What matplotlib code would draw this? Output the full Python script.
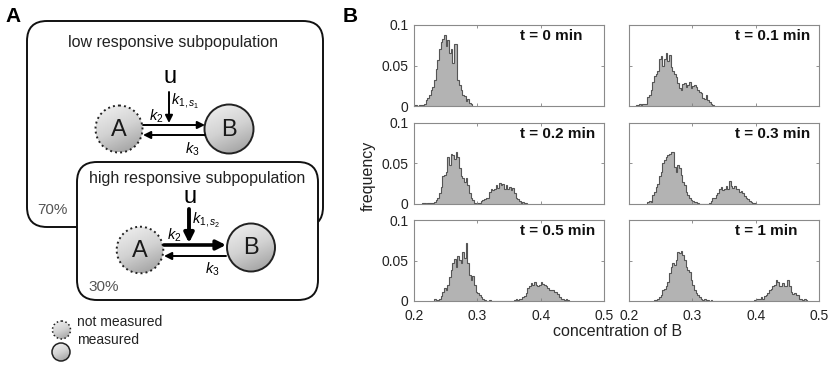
import numpy as np
import matplotlib.pyplot as plt
from matplotlib.patches import Circle, FancyBboxPatch
from matplotlib.colors import LinearSegmentedColormap

plt.rcParams['font.family'] = ['Liberation Sans', 'DejaVu Sans']
plt.rcParams['mathtext.fontset'] = 'custom'
plt.rcParams['mathtext.rm'] = 'Liberation Sans'
plt.rcParams['mathtext.it'] = 'Liberation Sans:italic'

# histogram data (frequency per bin)
bin_width = 0.00263
labels = ['t = 0 min', 't = 0.1 min', 't = 0.2 min', 't = 0.3 min', 't = 0.5 min', 't = 1 min']
starts = [0.2, 0.2105, 0.2132, 0.2289, 0.2316, 0.2395]

h_t0 = [0.001, 0.001, 0, 0.001, 0.001, 0.001, 0.002, 0.008, 0.0095, 0.014, 0.02, 0.023,
        0.032, 0.046, 0.057, 0.07, 0.079, 0.083, 0.088, 0.074, 0.082, 0.065, 0.07, 0.053,
        0.077, 0.077, 0.032, 0.026, 0.02, 0.013, 0.012, 0.006, 0.009, 0.004, 0.002]
h_t01 = [0.001, 0.001, 0.002, 0.001, 0.002, 0.002, 0.002, 0.011, 0.014, 0.02, 0.03, 0.037,
         0.04, 0.043, 0.058, 0.062, 0.05, 0.058, 0.066, 0.055, 0.063, 0.048, 0.043, 0.04,
         0.036, 0.028, 0.022, 0.02, 0.027, 0.029, 0.024, 0.026, 0.03, 0.022, 0.025, 0.026,
         0.024, 0.02, 0.017, 0.016, 0.01, 0.009, 0.013, 0.007, 0.005, 0.003, 0.001]
h_t02 = [0.001, 0.001, 0, 0.001, 0.001, 0.001, 0.001, 0.003, 0.005, 0.007, 0.013, 0.021,
         0.034, 0.036, 0.04, 0.058, 0.048, 0.062, 0.06, 0.056, 0.064, 0.058, 0.044, 0.034,
         0.032, 0.027, 0.032, 0.023, 0.013, 0.007, 0.005, 0.0015, 0, 0.001, 0.001, 0.004,
         0.005, 0.006, 0.007, 0.007, 0.015, 0.018, 0.017, 0.019, 0.023, 0.02, 0.026, 0.023,
         0.025, 0.019, 0.024, 0.019, 0.021, 0.017, 0.02, 0.013, 0.008, 0.006, 0.004, 0.0015,
         0.003, 0.001, 0.001]
h_t03 = [0.003, 0.004, 0.002, 0.011, 0.015, 0.021, 0.025, 0.034, 0.04, 0.05, 0.054, 0.058,
         0.06, 0.062, 0.064, 0.064, 0.046, 0.04, 0.048, 0.044, 0.036, 0.027, 0.023, 0.015,
         0.011, 0.007, 0.005, 0.004, 0.003, 0.002, 0.001, 0, 0, 0, 0, 0, 0, 0.0015, 0.004,
         0.007, 0.008, 0.011, 0.014, 0.019, 0.021, 0.017, 0.019, 0.022, 0.018, 0.029, 0.022,
         0.02, 0.022, 0.019, 0.018, 0.015, 0.016, 0.013, 0.01, 0.008, 0.006, 0.004, 0.0025,
         0.0015, 0.001]
h_t05 = [0.002, 0.001, 0.001, 0.003, 0.006, 0.0115, 0.016, 0.014, 0.02, 0.03, 0.038, 0.047,
         0.052, 0.042, 0.055, 0.051, 0.047, 0.061, 0.053, 0.071, 0.047, 0.032, 0.026, 0.031,
         0.02, 0.0115, 0.0095, 0.0075, 0.0045, 0.003, 0.001, 0, 0, 0.001, 0,
         0, 0, 0, 0, 0, 0, 0, 0, 0, 0, 0, 0, 0,
         0.001, 0.003, 0.001, 0.003, 0.002, 0.0045, 0.006, 0.0095, 0.016, 0.019, 0.022, 0.02,
         0.023, 0.02, 0.018, 0.02, 0.023, 0.021, 0.02, 0.018, 0.016, 0.014, 0.013, 0.014,
         0.0115, 0.0115, 0.0085, 0.0045, 0.002, 0.0025, 0.001, 0.002, 0.001]
h_t1 = [0.001, 0.001, 0.002, 0.005, 0.0075, 0.0135, 0.0145, 0.018, 0.024, 0.034, 0.0425,
        0.047, 0.045, 0.051, 0.061, 0.059, 0.062, 0.057, 0.051, 0.0425, 0.038, 0.036, 0.026,
        0.02, 0.0135, 0.0095, 0.0075, 0.0045, 0.002, 0.001, 0.002, 0.001, 0.001, 0, 0.001, 0,
        0, 0, 0, 0, 0, 0, 0, 0, 0, 0, 0, 0, 0, 0, 0, 0, 0, 0, 0, 0, 0, 0, 0, 0,
        0.001, 0.002, 0.002, 0.003, 0.005, 0.002, 0.006, 0.0075, 0.0095, 0.0135, 0.0145, 0.018,
        0.02, 0.026, 0.024, 0.018, 0.018, 0.022, 0.019, 0.019, 0.026, 0.018, 0.0115, 0.0085,
        0.0095, 0.0075, 0.0075, 0.002, 0.002, 0.001, 0.003, 0.001]
hists = [h_t0, h_t01, h_t02, h_t03, h_t05, h_t1]

x_ticks = [0.2, 0.3, 0.4, 0.5]
x_ticklabels = ['0.2', '0.3', '0.4', '0.5']
y_ticks = [0, 0.05, 0.1]
y_ticklabels = ['0', '0.05', '0.1']

W, H = 833, 366
fig = plt.figure(figsize=(W / 100, H / 100), dpi=100)


def px_axes(x0, y0, x1, y1):
    return fig.add_axes([x0 / W, 1 - y1 / H, (x1 - x0) / W, (y1 - y0) / H])


# ---- panel B: histograms ----
cols = [(414, 604), (629, 819)]
rows = [(25, 106), (123, 204), (220, 301)]
for i, (lab, start, h) in enumerate(zip(labels, starts, hists)):
    r, c = divmod(i, 2)
    ax = px_axes(cols[c][0], rows[r][0], cols[c][1], rows[r][1])
    edges = start + bin_width * np.arange(len(h) + 1)
    ax.stairs(h, edges, fill=True, color='#b3b3b3', lw=0)
    ax.stairs(h, edges, color='#555555', lw=0.8)
    ax.set_xlim(0.2, 0.5)
    ax.set_ylim(0, 0.1)
    ax.set_xticks(x_ticks)
    ax.set_xticklabels(x_ticklabels)
    ax.set_yticks(y_ticks)
    ax.set_yticklabels(y_ticklabels)
    ax.tick_params(direction='in', top=True, right=True, length=2.5, width=0.6,
                   color='#808080', labelsize=10, labelcolor='#222222', pad=4)
    ax.tick_params(axis='x', pad=5.5)
    if c == 1:
        ax.tick_params(labelleft=False)
    if r < 2:
        ax.tick_params(labelbottom=False)
    for s in ax.spines.values():
        s.set_color('#8a8a8a')
        s.set_linewidth(0.8)
    ax.text(0.56, 0.865, lab, transform=ax.transAxes, ha='left', va='center',
            fontsize=11, fontweight='bold', color='#111111')

fig.text(343 / W, 1 - 22 / H, 'B', fontsize=15, fontweight='bold', va='baseline')
fig.text(368 / W, 1 - 176 / H, 'frequency', rotation=90, ha='center', va='center',
         fontsize=11.5, color='#222222')
fig.text(618 / W, 1 - 332 / H, 'concentration of B', ha='center', va='center',
         fontsize=11.5, color='#222222')

# ---- panel A: diagram (axes in pixel units) ----
axA = fig.add_axes([0, 0, 340 / W, 1])
axA.set_xlim(0, 340)
axA.set_ylim(366, 0)
axA.axis('off')

shade = LinearSegmentedColormap.from_list('shade', ['#f2f2f2', '#d2d2d2', '#9a9a9a'])
gx, gy = np.meshgrid(np.linspace(0, 1, 60), np.linspace(0, 1, 60))
grad = 0.3 * gx + 0.7 * gy


def species(cx, cy, r, dotted, name='', lw=1.4):
    im = axA.imshow(grad, extent=(cx - r, cx + r, cy + r, cy - r), cmap=shade,
                    vmin=0, vmax=1, aspect='auto', zorder=4, interpolation='bilinear')
    circ = Circle((cx, cy), r, facecolor='none', edgecolor='#222222', lw=lw,
                  ls=(0, (1, 1.6)) if dotted else '-', zorder=5)
    axA.add_patch(circ)
    im.set_clip_path(circ)
    if name:
        axA.text(cx, cy + 1, name, ha='center', va='center', fontsize=17,
                 color='#1a1a1a', zorder=6)


def arrow(x0, y0, x1, y1, lw=1.4, ms=11):
    axA.annotate('', xy=(x1, y1), xytext=(x0, y0), zorder=6,
                 arrowprops=dict(arrowstyle='-|>', lw=lw, color='black',
                                 mutation_scale=ms, shrinkA=0, shrinkB=0))


box1 = FancyBboxPatch((27, 21), 296, 206, boxstyle='round,pad=0,rounding_size=20',
                      facecolor='white', edgecolor='#111111', lw=1.4, zorder=1)
box2 = FancyBboxPatch((77, 162), 241, 138, boxstyle='round,pad=0,rounding_size=20',
                      facecolor='white', edgecolor='#111111', lw=1.4, zorder=2)
axA.add_patch(box1)
axA.add_patch(box2)

axA.text(5, 22, 'A', fontsize=15, fontweight='bold', va='baseline')

# low responsive subpopulation
axA.text(173, 42, 'low responsive subpopulation', ha='center', va='center', fontsize=11.5,
         color='#222222', zorder=3)
axA.text(170, 83, 'u', ha='center', va='baseline', fontsize=17, zorder=3)
arrow(169, 92, 169, 123)
axA.text(171, 101, r'$k_{1,s_1}$', ha='left', va='center', fontsize=10.5, zorder=3)
species(119, 129, 23.5, True, 'A')
species(229, 129, 24.5, False, 'B')
arrow(143, 125, 205, 125)
arrow(205, 135, 143, 135)
axA.text(156, 116, r'$k_2$', ha='center', va='center', fontsize=10.5, zorder=3)
axA.text(192, 149, r'$k_3$', ha='center', va='center', fontsize=10.5, zorder=3)
axA.text(37, 210, '70%', ha='left', va='center', fontsize=11, color='#555555', zorder=1.5)

# high responsive subpopulation
axA.text(197, 179, 'high responsive subpopulation', ha='center', va='center', fontsize=11.5,
         color='#222222', zorder=3)
axA.text(190, 203, 'u', ha='center', va='baseline', fontsize=17, zorder=3)
arrow(189, 209, 189, 243, lw=2.8, ms=14)
axA.text(192, 220, r'$k_{1,s_2}$', ha='left', va='center', fontsize=10.5, zorder=3)
species(140, 250, 23.3, True, 'A')
species(251, 247.5, 24, False, 'B')
arrow(164, 245, 226, 245, lw=2.6, ms=14)
arrow(226, 256, 164, 256)
axA.text(174, 235, r'$k_2$', ha='center', va='center', fontsize=10.5, zorder=3)
axA.text(212, 269, r'$k_3$', ha='center', va='center', fontsize=10.5, zorder=3)
axA.text(88, 287, '30%', ha='left', va='center', fontsize=11, color='#555555', zorder=3)

# legend
species(61.5, 330, 9, True, lw=1.1)
species(61, 352, 9, False, lw=1.1)
axA.text(77, 322, 'not measured', ha='left', va='center', fontsize=10, color='#222222')
axA.text(77, 340, 'measured', ha='left', va='center', fontsize=10, color='#222222')

fig.savefig('out.png', dpi=100)
